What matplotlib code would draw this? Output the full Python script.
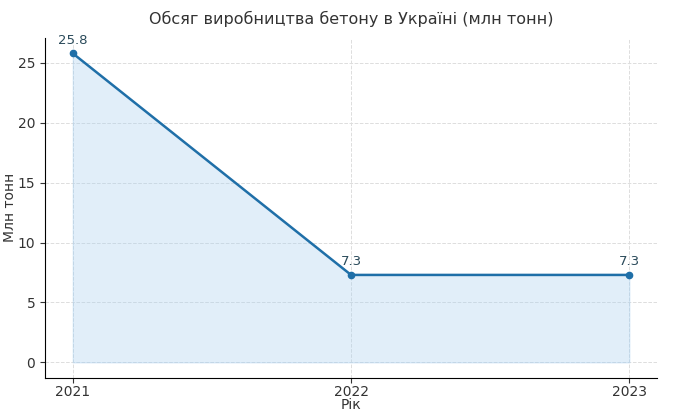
import matplotlib
matplotlib.use("Agg")
import matplotlib.pyplot as plt

years = [2021, 2022, 2023]
volumes = [25.8, 7.3, 7.3]
labels = ["25.8", "7.3", "7.3"]

fig = plt.figure(figsize=(6.81, 4.12), dpi=100)
ax = fig.add_axes([0.066, 0.083, 0.899, 0.825])

ax.plot(years, volumes, marker="o", color="#1f6fa8", linewidth=1.8, markersize=4.5)
ax.fill_between(years, volumes, color="#a9d0f0", alpha=0.35)

for x, y, t in zip(years, volumes, labels):
    ax.annotate(t, (x, y), textcoords="offset points", xytext=(0, 7),
                ha="center", fontsize=9.5, color="#2a4a5a")

ax.set_title("Обсяг виробництва бетону в Україні (млн тонн)", fontsize=11.5, color="#333333", pad=10)
ax.set_xlabel("Рік", fontsize=10, color="#333333")
ax.set_ylabel("Млн тонн", fontsize=10, color="#333333")
ax.xaxis.set_label_coords(0.5, -0.06)
ax.yaxis.set_label_coords(-0.046, 0.5)
ax.set_xticks(years)
ax.set_xticklabels([str(y) for y in years])
ax.tick_params(labelsize=10, colors="#333333")
ax.tick_params(axis="x", pad=1.5)
ax.grid(True, linestyle="--", color="#dddddd", linewidth=0.7)
ax.spines["top"].set_visible(False)
ax.spines["right"].set_visible(False)
ax.set_axisbelow(True)

fig.savefig("out.png", dpi=100)
